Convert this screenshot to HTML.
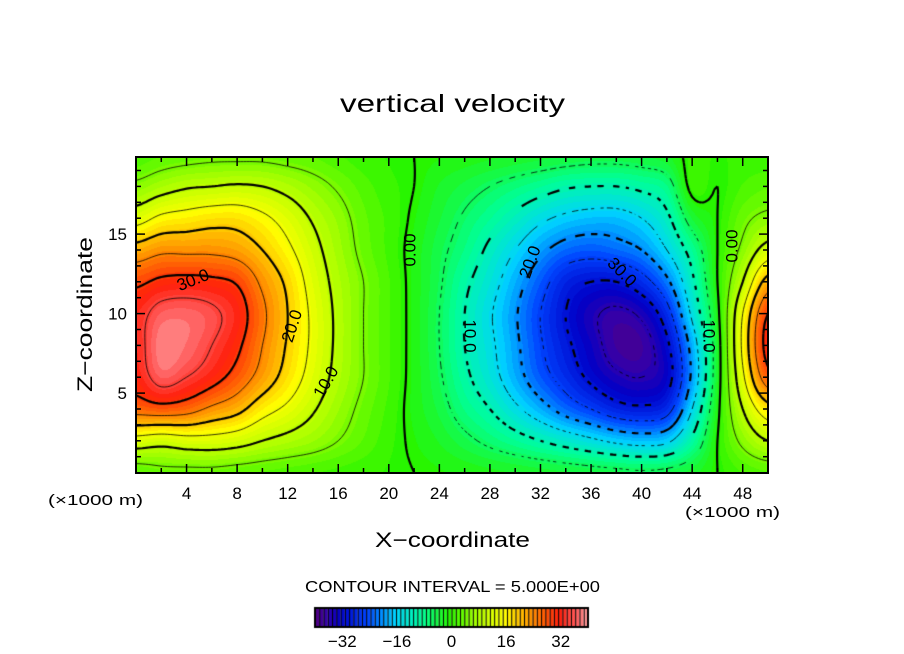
<!DOCTYPE html>
<html><head><meta charset="utf-8"><style>
html,body{margin:0;padding:0;background:#fff;width:904px;height:654px;overflow:hidden;font-family:"Liberation Sans",sans-serif}
#wrap{position:relative;width:904px;height:654px}
canvas,svg{position:absolute;left:0;top:0}
</style></head><body>
<div id="wrap">
<canvas id="cv" width="904" height="654"></canvas>
<svg id="sv" width="904" height="654"></svg>
</div>
<script>
// ---- data ----
const xCoords = [0,2,4,6,8,10,12,14,16,18,20,22,24,26,28,30,32,34,36,38,40,42,44,46,48,50];
const zCoords = [0,2,4,6,8,10,12,14,16,18,20];
const w00 = [3,4,4,4,3.5,3,2.5,2,1.5,1,0.5,0,-0.5,-1,-1.5,-2,-2.5,-3,-3.5,-4,-4.5,-4,-2.5,0,2,3];
const w02 = [13,12,13,13,12,10,8.5,7,5,3,1,-0.5,-2,-4,-6,-8,-10,-12,-14,-16,-17,-16,-9,0,6,10];
const w04 = [27,28,27,24,21.5,17,14,10.5,7,4,1.5,-1,-3.5,-7,-10,-14,-18,-22,-25,-28,-29,-27,-15,-1,10,18];
const w06 = [32,37,35,32,28,23,18,13,8.5,5,2,-1,-4.5,-9,-13,-18,-23,-27,-31,-34,-35,-32,-19,-2,14,28];
const w08 = [33,39,38,35,31,25,19.5,14,9,5,2,-1,-5,-10,-14,-19,-24.5,-29,-33,-37,-37,-31,-18,-2,16,32];
const w10 = [33,37,37.5,36,32.5,26,20,14,9,5,2,-1,-5,-10,-14.5,-19.5,-25,-30,-34,-36,-34,-27,-14,-1,15,30];
const w12 = [29,31,31.5,31,29.5,24,19,13,8.5,5,2,-1,-4.5,-9,-13,-18,-23,-28,-30,-30,-27,-21,-11,0,10,22];
const w14 = [22,24,24,24,23,20,16,11.5,7.5,4,1.5,-1,-4,-7,-11,-15,-19,-22,-23,-22,-20,-15,-8,0,6,12];
const w16 = [13,16,17,18,18,16,13,9.5,6.5,3.5,1.5,-0.5,-3,-5.5,-8,-11,-14,-16,-17,-17,-15,-11,-3,0,4,6];
const w18 = [6,8,9.5,10,10.5,10,8.5,6.5,4.5,2.5,1,0,-2,-3.5,-5,-6.5,-8,-9.5,-10,-10,-9,-7,1,0,2,3];
const w20 = [2,3,3.5,4,4,4,3.5,3,2,1,0.5,0,-0.5,-1,-1.5,-2,-2.5,-3,-3.5,-3.5,-3,-2,1,0.5,1,1];
const wRows = [w00,w02,w04,w06,w08,w10,w12,w14,w16,w18,w20];
const xTicks = [4,8,12,16,20,24,28,32,36,40,44,48];
const zTicks = [5,10,15];
const cbTicks = [-32,-16,0,16,32];
const contourLevels = [-35,-30,-25,-20,-15,-10,-5,0,5,10,15,20,25,30,35];

// ---- geometry ----
const PX0=136, PX1=768, PY0=157, PY1=473;
const X = v => 136 + v*12.64;
const Y = z => 472.6 - z*15.9;
const XMAX=50, ZMAX=(472.6-157)/15.9;

function cr(p0,p1,p2,p3,t){return 0.5*((2*p1)+(-p0+p2)*t+(2*p0-5*p1+4*p2-p3)*t*t+(-p0+3*p1-3*p2+p3)*t*t*t);}
const dx = xCoords[1]-xCoords[0], dz = zCoords[1]-zCoords[0];
const NX = xCoords.length, NZ = zCoords.length;
const cl=(v,a,b)=>Math.max(a,Math.min(b,v));
function val(x,z){
  let fi=(x-xCoords[0])/dx, fj=(z-zCoords[0])/dz;
  let i=cl(Math.floor(fi),0,NX-2), j=cl(Math.floor(fj),0,NZ-2);
  let tx=fi-i, tz=fj-j;
  const r=[];
  for(let k=-1;k<=2;k++){
    const row=wRows[cl(j+k,0,NZ-1)];
    r.push(cr(row[cl(i-1,0,NX-1)],row[i],row[cl(i+1,0,NX-1)],row[cl(i+2,0,NX-1)],tx));
  }
  return cr(r[0],r[1],r[2],r[3],tz);
}

const stops=[[-40,[90,0,122]],[-36,[50,0,170]],[-32,[0,0,200]],[-24,[0,70,255]],[-16,[0,210,255]],[-8,[0,255,150]],[0,[40,245,0]],[8,[170,255,0]],[16,[255,255,0]],[24,[255,145,0]],[32,[255,30,10]],[37,[255,90,90]],[40,[255,150,150]]];
function cmap(v){
  v=cl(Math.round(v/1.25)*1.25,-40,40);
  for(let k=0;k<stops.length-1;k++){
    const [a,ca]=stops[k],[b,cb]=stops[k+1];
    if(v<=b){const t=(v-a)/(b-a);return ca.map((c,m)=>Math.round(c+(cb[m]-c)*t));}
  }
  return stops[stops.length-1][1];
}

const cv=document.getElementById('cv'), ctx=cv.getContext('2d');
const W=PX1-PX0, H=PY1-PY0;
const img=ctx.createImageData(W,H);
for(let py=0;py<H;py++){
  const z=(472.6-(PY0+py+0.5))/15.9;
  for(let px=0;px<W;px++){
    const x=(PX0+px+0.5-136)/12.64;
    const c=cmap(val(x,z));
    const o=(py*W+px)*4;
    img.data[o]=c[0];img.data[o+1]=c[1];img.data[o+2]=c[2];img.data[o+3]=255;
  }
}
ctx.putImageData(img,PX0,PY0);

const st=0.25;
const gx=Math.ceil(XMAX/st)+1, gz=Math.ceil(ZMAX/st)+1;
const G=[];
for(let j=0;j<gz;j++){const row=[];for(let i=0;i<gx;i++)row.push(val(Math.min(i*st,XMAX),Math.min(j*st,ZMAX)));G.push(row);}
ctx.save();
ctx.beginPath();ctx.rect(PX0,PY0,W,H);ctx.clip();
ctx.strokeStyle='#000';ctx.lineCap='butt';
contourLevels.forEach(L=>{
  ctx.lineWidth = (L%10===0)?2.2:0.8;
  const dashed = L<0;
  ctx.beginPath();
  for(let j=0;j<gz-1;j++)for(let i=0;i<gx-1;i++){
    const a=G[j][i],b=G[j][i+1],c=G[j+1][i+1],d=G[j+1][i];
    const pts=[];
    const e=(v1,v2,x1,z1,x2,z2)=>{ if((v1<L)!==(v2<L)){const t=(L-v1)/(v2-v1);pts.push([x1+(x2-x1)*t,z1+(z2-z1)*t]);} };
    const x0=i*st,x1=(i+1)*st,z0=j*st,z1=(j+1)*st;
    e(a,b,x0,z0,x1,z0);e(b,c,x1,z0,x1,z1);e(c,d,x1,z1,x0,z1);e(d,a,x0,z1,x0,z0);
    for(let k=0;k+1<pts.length;k+=2){
      const p1=[X(pts[k][0]),Y(pts[k][1])],p2=[X(pts[k+1][0]),Y(pts[k+1][1])];
      if(dashed){const m=(p1[0]+p2[0]+p1[1]+p2[1])/2; if(Math.floor(m/(L%10===0?7:4))%2) continue;}
      ctx.moveTo(p1[0],p1[1]);ctx.lineTo(p2[0],p2[1]);
    }
  }
  ctx.stroke();
});
ctx.restore();

const CB0=315, CB1=588, CBY=608, CBH=19;
const cbX=v=>CB0+(v+40)/80*(CB1-CB0);
for(let k=0;k<64;k++){
  const v0=-40+k*1.25, c=cmap(v0+0.625);
  ctx.fillStyle=`rgb(${c[0]},${c[1]},${c[2]})`;
  ctx.fillRect(cbX(v0),CBY,cbX(v0+1.25)-cbX(v0),CBH);
  ctx.fillStyle='#000';ctx.fillRect(cbX(v0),CBY,1,CBH);
}
ctx.strokeStyle='#000';ctx.lineWidth=2;ctx.strokeRect(CB0,CBY,CB1-CB0,CBH);

const NS='http://www.w3.org/2000/svg', sv=document.getElementById('sv');
function mk(tag,attrs,txt){const el=document.createElementNS(NS,tag);for(const k in attrs)el.setAttribute(k,attrs[k]);if(txt!==undefined)el.textContent=txt;sv.appendChild(el);return el;}
let r=mk('rect',{x:PX0,y:PY0,width:W,height:H,fill:'none',stroke:'#000','stroke-width':2});


for(let v=2;v<50;v+=2){
  const len=(v%4===0)?9:5;
  let t1=mk('line',{x1:X(v),x2:X(v),y1:PY1,y2:PY1-len,stroke:'#000','stroke-width':1.5});
  
  
  let t2=mk('line',{x1:X(v),x2:X(v),y1:PY0,y2:PY0+len,stroke:'#000','stroke-width':1.5});
  
  
}
for(let v=1;v<20;v++){
  const len=(v%5===0)?9:5;
  let t1=mk('line',{x1:PX0,x2:PX0+len,y1:Y(v),y2:Y(v),stroke:'#000','stroke-width':1.5});
  
  
  let t2=mk('line',{x1:PX1,x2:PX1-len,y1:Y(v),y2:Y(v),stroke:'#000','stroke-width':1.5});
  
  
}
xTicks.forEach(v=>{
  let t=mk('text',{x:X(v),y:499,'font-size':17,'text-anchor':'middle'},String(v));
  
  
});
zTicks.forEach(v=>{
  let t=mk('text',{x:127,y:Y(v)+6,'font-size':17,'text-anchor':'end'},String(v));
  
  
});
cbTicks.forEach(v=>{
  let t=mk('text',{x:cbX(v),y:647,'font-size':17,'text-anchor':'middle'},(v<0?'\u2212':'')+Math.abs(v));
  
  
});
const labels=[["30.0",193,280,-22],["20.0",292,326,-72],["10.0",326,382,-60],["0.00",410,250,-90],["10.0",470,336,90],["20.0",530,262,-70],["30.0",622,272,45],["10.0",709,336,90],["0.00",732,246,-90]];
labels.forEach(l=>{
  let t=mk('text',{x:l[1],y:l[2],'font-size':17,'text-anchor':'middle','dominant-baseline':'central',transform:`rotate(${l[3]} ${l[1]} ${l[2]})`},l[0]);
  
  
});
</script>
<svg width="904" height="654" style="position:absolute;left:0;top:0;pointer-events:none">
<text x="340" y="112" font-size="25" textLength="225" lengthAdjust="spacingAndGlyphs">vertical velocity</text>
<text x="375" y="547" font-size="21" textLength="155" lengthAdjust="spacingAndGlyphs">X−coordinate</text>
<text x="0" y="0" font-size="21" textLength="155" lengthAdjust="spacingAndGlyphs" transform="translate(92,392) rotate(-90)">Z−coordinate</text>
<text x="48" y="505" font-size="15" textLength="95" lengthAdjust="spacingAndGlyphs">(×1000 m)</text>
<text x="685" y="517" font-size="15" textLength="95" lengthAdjust="spacingAndGlyphs">(×1000 m)</text>
<text x="305" y="592" font-size="16" textLength="295" lengthAdjust="spacingAndGlyphs">CONTOUR INTERVAL = 5.000E+00</text>
</svg>
</body></html>
